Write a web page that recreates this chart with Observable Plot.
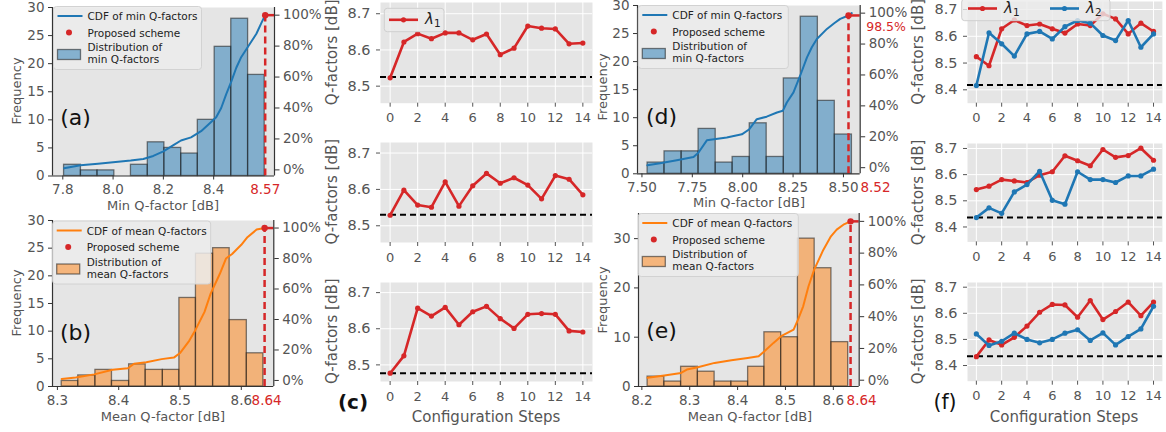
<!DOCTYPE html>
<html><head><meta charset="utf-8">
<script src="https://cdn.jsdelivr.net/npm/d3@7"></script>
<script src="https://cdn.jsdelivr.net/npm/@observablehq/plot@0.6"></script>
<style>
body{margin:0;background:#fff}
#fig{position:relative;width:1166px;height:432px;overflow:hidden;background:#fff;font-family:"DejaVu Sans",sans-serif}
</style></head><body><div id="fig"></div>
<script>
// ---------------- data ----------------
const steps = [0,1,2,3,4,5,6,7,8,9,10,11,12,13,14];
const stepTicks = [0,2,4,6,8,10,12,14];
const pctTicks = [0,0.2,0.4,0.6,0.8,1.0];

// (a) min Q-factors, scheme set 1
const edgesA  = [7.805,7.872,7.938,8.005,8.071,8.138,8.204,8.271,8.337,8.404,8.470,8.537,8.603];
const countsA = [2,1,1,0,2,6,5,4,10,23,28,18];
const cdfXA = [7.805,7.87,7.94,8.00,8.07,8.12,8.16,8.20,8.24,8.27,8.31,8.35,8.39,8.41,8.43,8.45,8.47,8.49,8.51,8.53,8.55,8.57,8.59,8.605];
const cdfYA = [0.01,0.03,0.04,0.05,0.06,0.07,0.09,0.12,0.16,0.19,0.21,0.25,0.31,0.34,0.40,0.49,0.57,0.66,0.73,0.78,0.83,0.88,0.95,1.0];
// (b) mean Q-factors, scheme set 1
const edgesB  = [8.307,8.334,8.362,8.389,8.417,8.444,8.472,8.499,8.526,8.554,8.581,8.609,8.636];
const countsB = [1,2,3,1,4,3,3,16,24,25,12,6];
const cdfXB = [8.307,8.33,8.36,8.39,8.415,8.425,8.445,8.47,8.49,8.50,8.515,8.525,8.54,8.55,8.565,8.575,8.585,8.60,8.61,8.625,8.638];
const cdfYB = [0.01,0.02,0.04,0.07,0.08,0.11,0.12,0.14,0.15,0.18,0.26,0.33,0.45,0.57,0.70,0.80,0.83,0.89,0.94,0.99,1.0];
// (d) min Q-factors, scheme set 2
const edgesD  = [7.528,7.612,7.697,7.781,7.866,7.950,8.035,8.119,8.204,8.288,8.373,8.457,8.542];
const countsD = [2,4,4,8,2,3,9,3,17,28,13,7];
const cdfXD = [7.527,7.590,7.673,7.756,7.780,7.822,7.921,7.996,8.033,8.070,8.119,8.170,8.199,8.219,8.252,8.285,8.319,8.343,8.368,8.418,8.454,8.484,8.525,8.541];
const cdfYD = [0.015,0.028,0.048,0.069,0.097,0.177,0.195,0.216,0.249,0.314,0.33,0.357,0.368,0.422,0.487,0.595,0.714,0.779,0.833,0.898,0.935,0.963,0.985,1.0];
// (e) mean Q-factors, scheme set 2
const edgesE  = [8.212,8.247,8.282,8.317,8.352,8.387,8.422,8.456,8.491,8.526,8.561,8.596,8.631];
const countsE = [2,1,4,3,1,1,4,11,10,30,24,9];
const cdfXE = [8.212,8.247,8.282,8.294,8.317,8.352,8.387,8.421,8.444,8.456,8.475,8.491,8.517,8.526,8.537,8.548,8.56,8.579,8.595,8.607,8.621,8.636];
const cdfYE = [0.015,0.03,0.046,0.067,0.082,0.109,0.126,0.14,0.151,0.182,0.235,0.277,0.319,0.38,0.465,0.59,0.696,0.82,0.906,0.948,0.979,1.0];

// proposed scheme
const propA = {x:8.605, c:1.0, label:"8.57"};
const propB = {x:8.638, c:1.0, label:"8.64"};
const propD = {x:8.525, c:0.985, label:"8.52", pct:"98.5%"};
const propE = {x:8.636, c:1.0, label:"8.64"};

// (c) configuration steps, lambda 1
const c1L1 = [8.523,8.622,8.645,8.631,8.647,8.647,8.628,8.644,8.587,8.605,8.666,8.660,8.658,8.617,8.619];
const c2L1 = [8.529,8.598,8.557,8.551,8.621,8.554,8.610,8.644,8.617,8.632,8.612,8.574,8.638,8.628,8.585];
const c3L1 = [8.477,8.525,8.657,8.635,8.659,8.611,8.647,8.662,8.628,8.601,8.640,8.642,8.640,8.594,8.591];
const cBase = [8.525,8.530,8.477];
// (f) configuration steps, lambda 1 and lambda 2
const f1L1 = [8.524,8.490,8.628,8.661,8.640,8.646,8.628,8.612,8.646,8.640,8.684,8.665,8.609,8.649,8.618];
const f1L2 = [8.416,8.613,8.572,8.526,8.609,8.618,8.590,8.636,8.659,8.649,8.603,8.584,8.659,8.559,8.609];
const f2L1 = [8.543,8.556,8.581,8.576,8.570,8.598,8.611,8.672,8.653,8.634,8.696,8.666,8.673,8.701,8.655];
const f2L2 = [8.436,8.473,8.452,8.534,8.562,8.613,8.502,8.487,8.611,8.581,8.581,8.570,8.595,8.595,8.621];
const f3L1 = [8.434,8.498,8.479,8.508,8.551,8.604,8.634,8.632,8.585,8.649,8.576,8.607,8.643,8.591,8.643];
const f3L2 = [8.521,8.477,8.493,8.524,8.500,8.487,8.500,8.524,8.537,8.496,8.525,8.479,8.511,8.540,8.627];
const fBase = [8.418,8.436,8.436];

// ---------------- style ----------------
const RED = "#d62728", BLUE = "#1f77b4", ORANGE = "#ff7f0e";
const R0 = -0.0395, R1 = 1.0495;   // twin-axis limits of the CDF
const fig = document.getElementById("fig");

function place(svg, left, top) {
  svg.style.position = "absolute";
  svg.style.left = left + "px";
  svg.style.top = top + "px";
  fig.appendChild(svg);
}

function histPanel(o) {
  const ml = 42, mr = 52, mt = 10, mb = 30;
  const W = o.R - o.L, H = o.B - o.T;
  const yMax = o.yDomain[1];
  const toF = c => (c - R0) / (R1 - R0) * yMax;
  const fromF = v => v / yMax * (R1 - R0) + R0;
  const bins = o.counts.map((n, i) => ({x1: o.edges[i], x2: o.edges[i + 1], n}));
  const cdf = o.cdfX.map((x, i) => ({x, c: o.cdfY[i]}));
  const p = o.prop;
  const marks = [
    Plot.frame({fill: "#e5e5e5", stroke: "none"}),
    Plot.rect(bins, {x1: "x1", x2: "x2", y1: () => 0, y2: "n", fill: o.color, fillOpacity: 0.5,
      stroke: "#1a1a1a", strokeOpacity: 0.55, strokeWidth: 1.3}),
    Plot.line(cdf, {x: "x", y: d => toF(d.c), stroke: o.color, strokeWidth: 2}),
    Plot.ruleX([p], {x: "x", y1: () => 0, y2: d => toF(d.c), stroke: RED, strokeWidth: 2.5, strokeDasharray: "7,4"}),
    Plot.ruleY([p], {y: d => toF(d.c), x1: "x", x2: () => o.xDomain[1], stroke: RED, strokeWidth: 2.5}),
    Plot.dot([p], {x: "x", y: d => toF(d.c), r: 3.2, fill: RED, stroke: "none"}),
    Plot.ruleX(o.xDomain, {stroke: "#333", strokeWidth: 1.2}),
    Plot.ruleY([0], {stroke: "#333", strokeWidth: 1.2}),
    Plot.axisX({ticks: o.xTicks, tickFormat: d3.format(o.xFmt), tickSize: 4, tickPadding: 4.5,
      stroke: "#333", color: "#555", label: null}),
    Plot.axisY({ticks: o.yTicks, tickSize: 4, tickPadding: 4, stroke: "#333", color: "#555", label: null}),
    Plot.axisY({anchor: "right", ticks: pctTicks.map(toF), tickFormat: v => Math.round(fromF(v) * 100) + "%",
      tickSize: 4.5, tickPadding: 4, stroke: "#333", color: "#555", label: null}),
    Plot.text([p], {x: "x", frameAnchor: "bottom", text: d => d.label, fill: RED, dy: 8.5, dx: o.labelDx, lineAnchor: "top"})
  ];
  if (p.pct) marks.push(Plot.text([p], {y: d => toF(d.c), frameAnchor: "right", text: d => d.pct, fill: RED,
    textAnchor: "start", dx: 6, dy: 11.5, fontSize: 12.5}));
  const svg = Plot.plot({
    width: W + ml + mr, height: H + mt + mb,
    marginLeft: ml, marginRight: mr, marginTop: mt, marginBottom: mb,
    style: {background: "transparent", overflow: "visible", fontFamily: "DejaVu Sans", fontSize: "13.5px", color: "#555"},
    x: {domain: o.xDomain, axis: null, label: null},
    y: {domain: o.yDomain, axis: null, label: null},
    marks
  });
  place(svg, o.L - ml, o.T - mt);
}

function linePanel(o) {
  const ml = 48, mr = 8, mt = 6, mb = 28;
  const W = o.R - o.L, H = o.B - o.T;
  const marks = [
    Plot.frame({fill: "#e5e5e5", stroke: "none"}),
    Plot.gridX({ticks: stepTicks, stroke: "white", strokeOpacity: 1, strokeWidth: 1}),
    Plot.gridY({ticks: o.yTicks, stroke: "white", strokeOpacity: 1, strokeWidth: 1}),
    Plot.ruleY([o.baseline], {stroke: "black", strokeWidth: 2, strokeDasharray: "6,4"})
  ];
  for (const s of o.series) {
    const pts = steps.map((x, i) => ({x, y: s.values[i]}));
    marks.push(Plot.line(pts, {x: "x", y: "y", stroke: s.color, strokeWidth: 2.6}));
    marks.push(Plot.dot(pts, {x: "x", y: "y", r: 2.6, fill: s.color, stroke: "none"}));
  }
  marks.push(Plot.axisX({ticks: stepTicks, tickSize: 4, tickPadding: 6, stroke: "#555", color: "#555", fontSize: 13, label: null}));
  marks.push(Plot.axisY({ticks: o.yTicks, tickFormat: d3.format(".1f"), tickSize: 4, tickPadding: 6,
    stroke: "#555", color: "#555", fontSize: 14.5, label: null}));
  const svg = Plot.plot({
    width: W + ml + mr, height: H + mt + mb,
    marginLeft: ml, marginRight: mr, marginTop: mt, marginBottom: mb,
    style: {background: "transparent", overflow: "visible", fontFamily: "DejaVu Sans", fontSize: "13px", color: "#555"},
    x: {domain: [-0.7, 14.7], axis: null, label: null},
    y: {domain: o.yDomain, axis: null, label: null},
    marks
  });
  place(svg, o.L - ml, o.T - mt);
}

// ---------------- panels ----------------
histPanel({L: 52, R: 274, T: 6.5, B: 175, xDomain: [7.759, 8.642], yDomain: [0, 30],
  xTicks: [7.8, 8.0, 8.2, 8.4], xFmt: ".1f", yTicks: [0,5,10,15,20,25,30],
  edges: edgesA, counts: countsA, cdfX: cdfXA, cdfY: cdfYA, color: BLUE, prop: propA, labelDx: 0});
histPanel({L: 51.7, R: 273, T: 220, B: 386, xDomain: [8.292, 8.653], yDomain: [0, 30],
  xTicks: [8.3, 8.4, 8.5, 8.6], xFmt: ".1f", yTicks: [0,5,10,15,20,25,30],
  edges: edgesB, counts: countsB, cdfX: cdfXB, cdfY: cdfYB, color: ORANGE, prop: propB, labelDx: 2});
histPanel({L: 637.3, R: 860, T: 5, B: 173.3, xDomain: [7.478, 8.583], yDomain: [0, 30],
  xTicks: [7.5, 7.75, 8.0, 8.25, 8.5], xFmt: ".2f", yTicks: [0,5,10,15,20,25,30],
  edges: edgesD, counts: countsD, cdfX: cdfXD, cdfY: cdfYD, color: BLUE, prop: propD, labelDx: 27});
histPanel({L: 638.3, R: 859, T: 213, B: 386, xDomain: [8.193, 8.654], yDomain: [0, 35.1],
  xTicks: [8.2, 8.3, 8.4, 8.5, 8.6], xFmt: ".1f", yTicks: [0,10,20,30],
  edges: edgesE, counts: countsE, cdfX: cdfXE, cdfY: cdfYE, color: ORANGE, prop: propE, labelDx: 11});

const cTicks = [8.5, 8.6, 8.7];
linePanel({L: 380, R: 592, T: 2, B: 102.7, yDomain: [8.453, 8.731], yTicks: cTicks, baseline: cBase[0], series: [{values: c1L1, color: RED}]});
linePanel({L: 380, R: 592, T: 141.7, B: 241.7, yDomain: [8.454, 8.729], yTicks: cTicks, baseline: cBase[1], series: [{values: c2L1, color: RED}]});
linePanel({L: 380, R: 592, T: 281.7, B: 380.7, yDomain: [8.454, 8.728], yTicks: cTicks, baseline: cBase[2], series: [{values: c3L1, color: RED}]});

const fTicks = [8.4, 8.5, 8.6, 8.7];
linePanel({L: 966.7, R: 1161.6, T: 1, B: 102.7, yDomain: [8.35, 8.73], yTicks: fTicks, baseline: fBase[0],
  series: [{values: f1L1, color: RED}, {values: f1L2, color: BLUE}]});
linePanel({L: 966.7, R: 1161.6, T: 143.3, B: 241.7, yDomain: [8.343, 8.719], yTicks: fTicks, baseline: fBase[1],
  series: [{values: f2L1, color: RED}, {values: f2L2, color: BLUE}]});
linePanel({L: 966.7, R: 1161.6, T: 282, B: 380.7, yDomain: [8.34, 8.718], yTicks: fTicks, baseline: fBase[2],
  series: [{values: f3L1, color: RED}, {values: f3L2, color: BLUE}]});

// ---------------- overlay: labels, legends, panel letters ----------------
const ov = d3.select(fig).append("svg")
  .attr("width", 1166).attr("height", 432)
  .style("position", "absolute").style("left", "0px").style("top", "0px")
  .style("pointer-events", "none").style("font-family", "DejaVu Sans");

function label(x, y, txt, size, opts = {}) {
  const t = ov.append("text").attr("text-anchor", "middle").attr("dominant-baseline", "central")
    .attr("font-size", size).attr("fill", opts.fill || "#555").text(txt);
  if (opts.weight) t.attr("font-weight", opts.weight);
  if (opts.rotate) t.attr("transform", `translate(${x},${y}) rotate(-90)`);
  else t.attr("x", x).attr("y", y);
  return t;
}

// hist axis labels
label(16, 91, "Frequency", 13, {rotate: true});
label(16, 303, "Frequency", 13, {rotate: true});
label(602, 87, "Frequency", 13, {rotate: true});
label(602, 300, "Frequency", 13, {rotate: true});
label(163, 205, "Min Q-factor [dB]", 13);
label(163, 416, "Mean Q-factor [dB]", 13);
label(749, 202, "Min Q-factor [dB]", 13);
label(750, 416, "Mean Q-factor [dB]", 13);
// line axis labels
[52.3, 191.7, 331.2].forEach(y => label(331.7, y, "Q-factors [dB]", 15, {rotate: true}));
[51.8, 192.5, 331.3].forEach(y => label(918, y, "Q-factors [dB]", 15, {rotate: true}));
label(486, 416.7, "Configuration Steps", 15);
label(1064, 416.7, "Configuration Steps", 15);
// panel letters
label(75.5, 117, "(a)", 22, {fill: "#111"});
label(75.5, 332, "(b)", 22, {fill: "#111"});
label(353, 402, "(c)", 20, {fill: "#111", weight: "bold"});
label(661.5, 116, "(d)", 22, {fill: "#111"});
label(661.5, 330, "(e)", 22, {fill: "#111"});
label(945, 402, "(f)", 20.5, {fill: "#111"});

function histLegend(bx, by, w, color, l1, l3) {
  const g = ov.append("g").attr("font-size", 10.5).attr("fill", "#222");
  g.append("rect").attr("x", bx).attr("y", by).attr("width", w).attr("height", 63).attr("rx", 3)
    .attr("fill", "#ececec").attr("fill-opacity", 0.85).attr("stroke", "#d2d2d2");
  g.append("line").attr("x1", bx + 4).attr("x2", bx + 29).attr("y1", by + 9.5).attr("y2", by + 9.5)
    .attr("stroke", color).attr("stroke-width", 2);
  g.append("circle").attr("cx", bx + 15.5).attr("cy", by + 26).attr("r", 3).attr("fill", RED);
  g.append("rect").attr("x", bx + 4).attr("y", by + 43).attr("width", 23).attr("height", 10)
    .attr("fill", color).attr("fill-opacity", 0.5).attr("stroke", "#1a1a1a").attr("stroke-opacity", 0.55).attr("stroke-width", 1.3);
  [[l1, 9.5], ["Proposed scheme", 26], ["Distribution of", 40.5], [l3, 52.5]].forEach(([t, dy]) =>
    g.append("text").attr("x", bx + 34).attr("y", by + dy).attr("dominant-baseline", "central").text(t));
}
histLegend(53.5, 6.5, 148, BLUE, "CDF of min Q-factors", "min Q-factors");
histLegend(52.7, 221, 158, ORANGE, "CDF of mean Q-factors", "mean Q-factors");
histLegend(638.3, 5.5, 150, BLUE, "CDF of min Q-factors", "min Q-factors");
histLegend(638.3, 213.5, 160, ORANGE, "CDF of mean Q-factors", "mean Q-factors");

function lambdaText(g, x, y, sub) {
  const t = g.append("text").attr("x", x).attr("y", y).attr("dominant-baseline", "central")
    .attr("font-size", 15).attr("fill", "#222");
  t.append("tspan").attr("font-style", "italic").text("λ");
  t.append("tspan").attr("font-size", 10.5).attr("dy", 4).text(sub);
}
function lineLegend(bx, by, w, h, items) {
  const g = ov.append("g");
  g.append("rect").attr("x", bx).attr("y", by).attr("width", w).attr("height", h).attr("rx", 3)
    .attr("fill", "#ebebeb").attr("fill-opacity", 0.8).attr("stroke", "#cfcfcf");
  for (const it of items) {
    g.append("line").attr("x1", it.x).attr("x2", it.x + 29).attr("y1", it.y).attr("y2", it.y)
      .attr("stroke", it.color).attr("stroke-width", 2.6);
    g.append("circle").attr("cx", it.x + 14.5).attr("cy", it.y).attr("r", 2.6).attr("fill", it.color);
    lambdaText(g, it.x + 36, it.y - 1, it.sub);
  }
}
lineLegend(384.3, 8.3, 59.7, 23.4, [{x: 389, y: 19.8, color: RED, sub: "1"}]);
lineLegend(961.7, -1, 148.3, 21.7, [{x: 968, y: 8.5, color: RED, sub: "1"}, {x: 1050, y: 8.5, color: BLUE, sub: "2"}]);
</script></body></html>
